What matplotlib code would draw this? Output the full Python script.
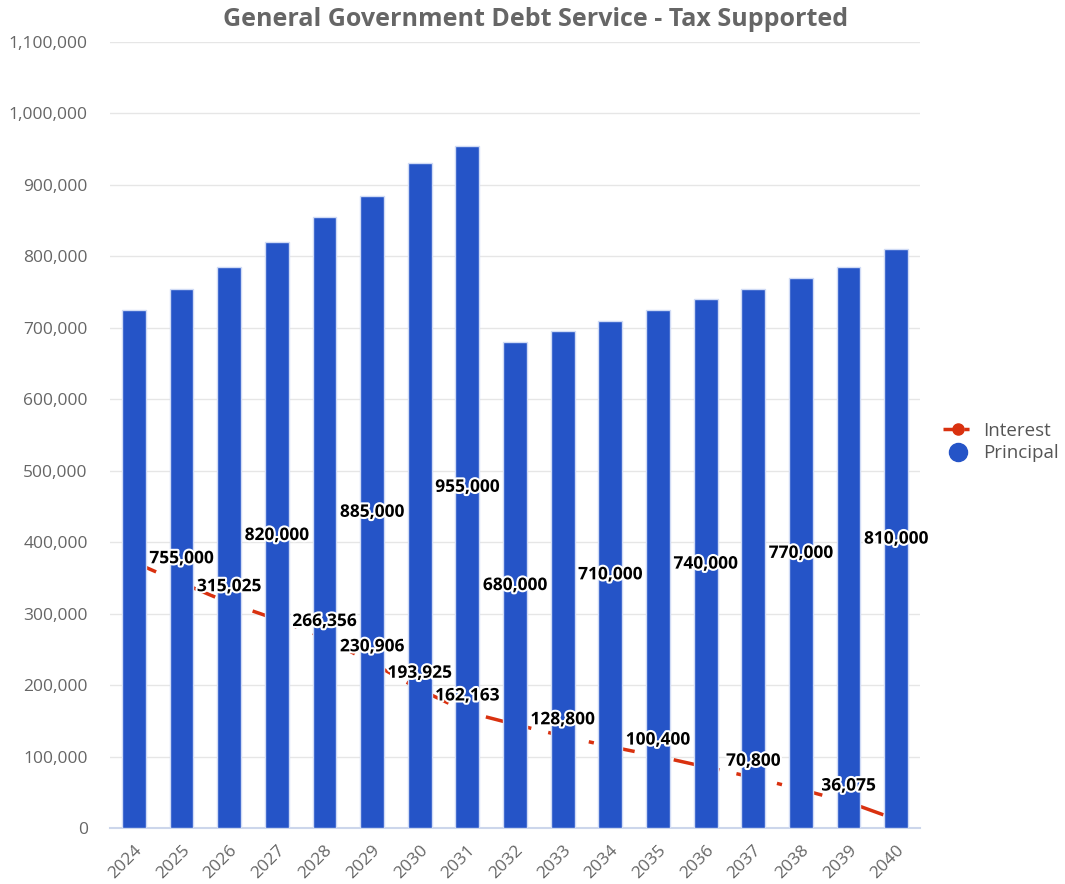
import matplotlib
matplotlib.use("Agg")
import matplotlib.pyplot as plt
import matplotlib.patheffects as pe
from matplotlib.lines import Line2D
import numpy as np

years = [str(y) for y in range(2024, 2041)]
principal = [725000, 755000, 785000, 820000, 855000, 885000, 930000, 955000,
             680000, 695000, 710000, 725000, 740000, 755000, 770000, 785000, 810000]
interest = [372000, 343000, 315025, 292000, 266356, 230906, 193925, 162163,
            145000, 128800, 114000, 100400, 85500, 70800, 54000, 36075, 12000]

# labels the original chart keeps visible (others were hidden for overlap)
principal_label_years = ["2025", "2027", "2029", "2031", "2032", "2034", "2036", "2038", "2040"]
interest_label_years = ["2026", "2028", "2029", "2030", "2031", "2033", "2035", "2037", "2039"]

plt.rcParams["font.family"] = ["Open Sans", "DejaVu Sans"]

BLUE = "#2554c7"
RED = "#d9310f"
GREY = "#666666"

fig = plt.figure(figsize=(10.65, 8.84), dpi=100)
ax = fig.add_axes([110 / 1065, 1 - 828 / 884, 810 / 1065, 786 / 884])

x = np.arange(len(years))
ax.plot(x, interest, color=RED, lw=2.5, linestyle=(0, (7, 5, 1.5, 5)), zorder=2)
ax.bar(x, principal, width=0.5, color=BLUE, edgecolor="#d0dbf5", linewidth=1, zorder=3)

ax.set_xlim(-0.5, len(years) - 0.5)
ax.set_ylim(0, 1100000)
ax.set_yticks(np.arange(0, 1100001, 100000))
ax.yaxis.set_major_formatter(matplotlib.ticker.FuncFormatter(lambda v, p: f"{int(v):,}"))
ax.set_xticks(x)
ax.set_xticklabels(years, rotation=45, ha="right", rotation_mode="anchor")
ax.tick_params(axis="both", length=0, colors=GREY, labelsize=12.5)
ax.tick_params(axis="x", pad=10)
ax.tick_params(axis="y", pad=16)
ax.grid(axis="y", color="#e6e6e6", lw=1)
ax.set_axisbelow(True)
for s in ["top", "right", "left"]:
    ax.spines[s].set_visible(False)
ax.spines["bottom"].set_color("#ccd6eb")
ax.spines["bottom"].set_linewidth(1.5)

stroke = [pe.withStroke(linewidth=3, foreground="white")]
for i, yr in enumerate(years):
    if yr in principal_label_years:
        ax.text(i, principal[i] / 2, f"{principal[i]:,}", ha="center", va="center",
                fontsize=12.5, fontweight="bold", color="black", path_effects=stroke, zorder=5)
    if yr in interest_label_years:
        ax.annotate(f"{interest[i]:,}", (i, interest[i]), xytext=(0, 12), textcoords="offset points",
                    ha="center", va="center", fontsize=12.5, fontweight="bold", color="black",
                    path_effects=stroke, zorder=5)

fig.text(0.503, 0.978, "General Government Debt Service - Tax Supported", ha="center", va="center",
         fontsize=18, fontweight="bold", color="#666666")

handles = [
    Line2D([0], [0], color=RED, lw=2.5, linestyle=(0, (4, 2, 1.5, 2)), marker="o", markersize=8),
    Line2D([0], [0], color=BLUE, lw=0, marker="o", markersize=13),
]
fig.legend(handles, ["Interest", "Principal"], loc="center left", bbox_to_anchor=(0.870, 0.5),
           frameon=False, fontsize=13.5, labelcolor="#555555", handlelength=1.6,
           handletextpad=0.5, labelspacing=0.25)

fig.savefig("out.png", dpi=100)
